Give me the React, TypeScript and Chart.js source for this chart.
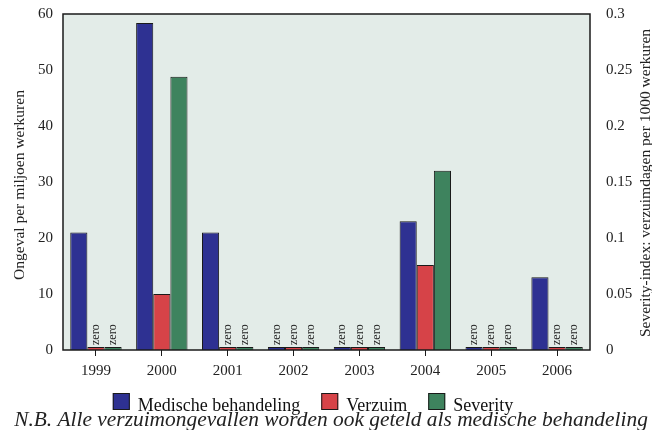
import React, { useEffect, useRef } from "react";
import { Chart, registerables } from "chart.js";

Chart.register(...registerables);

const years = ["1999", "2000", "2001", "2002", "2003", "2004", "2005", "2006"];
const medische = [21, 58.4, 21, 0, 0, 23, 0, 13];
const verzuim = [0, 10, 0, 0, 0, 15.2, 0, 0];
const severity = [0, 0.244, 0, 0, 0, 0.16, 0, 0];
const leftTicks = ["0", "10", "20", "30", "40", "50", "60"];
const rightTicks = ["0", "0.05", "0.1", "0.15", "0.2", "0.25", "0.3"];
const leftTitle = "Ongeval per miljoen werkuren";
const rightTitle = "Severity-index: verzuimdagen per 1000 werkuren";
const footnote = "N.B. Alle verzuimongevallen worden ook geteld als medische behandeling";

const SERIF = "'Liberation Serif', 'Times New Roman', serif";
const TEXT = "#222";

const bgPlugin = {
  id: "plotBg",
  beforeDraw(chart: any) {
    const { ctx, chartArea: a } = chart;
    ctx.save();
    ctx.fillStyle = "#E3ECE8";
    ctx.fillRect(a.left, a.top, a.right - a.left, a.bottom - a.top);
    ctx.restore();
  },
  afterDraw(chart: any) {
    const { ctx, chartArea: a } = chart;
    ctx.save();
    ctx.strokeStyle = "#1a1a1a";
    ctx.lineWidth = 1.5;
    ctx.strokeRect(a.left, a.top, a.right - a.left, a.bottom - a.top);

    // axis titles (both read bottom-to-top)
    const cy = (a.top + a.bottom) / 2;
    ctx.fillStyle = TEXT;
    ctx.font = `15.5px ${SERIF}`;
    ctx.textAlign = "center";
    ctx.textBaseline = "middle";
    ctx.save();
    ctx.translate(20, cy + 3);
    ctx.rotate(-Math.PI / 2);
    ctx.fillText(leftTitle, 0, 0);
    ctx.restore();
    ctx.save();
    ctx.translate(646, cy + 1);
    ctx.rotate(-Math.PI / 2);
    ctx.fillText(rightTitle, 0, 0);
    ctx.restore();

    // legend from datasets
    ctx.font = `18px ${SERIF}`;
    ctx.textAlign = "left";
    ctx.textBaseline = "alphabetic";
    const box = 17;
    const gapBoxText = 8;
    const gapItems = 21;
    const items = chart.data.datasets.map((d: any) => ({
      label: d.label,
      color: d.backgroundColor,
      w: ctx.measureText(d.label).width,
    }));
    const total =
      items.reduce((s: number, it: any) => s + box + gapBoxText + it.w, 0) +
      gapItems * (items.length - 1);
    let x = 313 - total / 2;
    const boxTop = 393;
    items.forEach((it: any) => {
      ctx.fillStyle = it.color;
      ctx.fillRect(x, boxTop, box, box);
      ctx.strokeStyle = "#1a1a1a";
      ctx.lineWidth = 1;
      ctx.strokeRect(x + 0.5, boxTop + 0.5, box - 1, box - 1);
      ctx.fillStyle = "#111";
      ctx.fillText(it.label, x + box + gapBoxText, 411);
      x += box + gapBoxText + it.w + gapItems;
    });

    // footnote
    ctx.font = `italic 21.4px ${SERIF}`;
    ctx.textAlign = "center";
    ctx.fillStyle = TEXT;
    ctx.fillText(footnote, 331, 426);
    ctx.restore();
  },
};

const zeroPlugin = {
  id: "zeroLabels",
  afterDatasetsDraw(chart: any) {
    const { ctx, chartArea: a } = chart;
    ctx.save();
    ctx.font = `12px ${SERIF}`;
    ctx.fillStyle = TEXT;
    ctx.textAlign = "left";
    ctx.textBaseline = "middle";
    chart.data.datasets.forEach((ds: any, di: number) => {
      const meta = chart.getDatasetMeta(di);
      ds.data.forEach((v: number, i: number) => {
        if (v === 0) {
          const el = meta.data[i];
          ctx.save();
          ctx.translate(el.x, a.bottom - 5);
          ctx.rotate(-Math.PI / 2);
          ctx.fillText("zero", 0, 0);
          ctx.restore();
        }
      });
    });
    ctx.restore();
  },
};

export default function App() {
  const ref = useRef<HTMLCanvasElement>(null);
  useEffect(() => {
    const chart = new Chart(ref.current!, {
      type: "bar",
      data: {
        labels: years,
        datasets: [
          {
            label: "Medische behandeling",
            data: medische,
            backgroundColor: "#2E3192",
            borderColor: "#1a1a1a",
            borderWidth: 1,
            yAxisID: "y",
            minBarLength: 3,
          },
          {
            label: "Verzuim",
            data: verzuim,
            backgroundColor: "#D64348",
            borderColor: "#1a1a1a",
            borderWidth: 1,
            yAxisID: "y",
            minBarLength: 3,
          },
          {
            label: "Severity",
            data: severity,
            backgroundColor: "#3E835E",
            borderColor: "#1a1a1a",
            borderWidth: 1,
            yAxisID: "y1",
            minBarLength: 3,
          },
        ],
      },
      options: {
        animation: false,
        responsive: true,
        maintainAspectRatio: false,
        layout: { padding: { left: 0, right: 0, top: 14, bottom: 50 } },
        datasets: { bar: { categoryPercentage: 0.78, barPercentage: 1 } },
        scales: {
          x: {
            afterFit: (s: any) => {
              s.height = 30;
              s.paddingLeft = 0;
              s.paddingRight = 0;
            },
            grid: {
              display: true,
              drawOnChartArea: false,
              offset: false,
              tickLength: 6,
              color: "#1a1a1a",
            },
            border: { display: false },
            ticks: { color: TEXT, font: { family: SERIF, size: 15 }, padding: 6 },
          },
          y: {
            position: "left",
            min: 0,
            max: 60,
            afterFit: (s: any) => {
              s.width = 63;
              s.paddingTop = 0;
              s.paddingBottom = 0;
            },
            grid: { display: false, drawTicks: false },
            border: { display: false },
            ticks: {
              stepSize: 10,
              color: TEXT,
              padding: 10,
              font: { family: SERIF, size: 15 },
              callback: (_v: any, i: number) => leftTicks[i],
            },
          },
          y1: {
            position: "right",
            min: 0,
            max: 0.3,
            afterFit: (s: any) => {
              s.width = 62;
              s.paddingTop = 0;
              s.paddingBottom = 0;
            },
            grid: { display: false, drawTicks: false },
            border: { display: false },
            ticks: {
              stepSize: 0.05,
              color: TEXT,
              padding: 16,
              font: { family: SERIF, size: 15 },
              callback: (_v: any, i: number) => rightTicks[i],
            },
          },
        },
        plugins: {
          legend: { display: false },
          title: { display: false },
          tooltip: { enabled: false },
        },
      },
      plugins: [bgPlugin, zeroPlugin],
    } as any);
    return () => chart.destroy();
  }, []);
  return (
    <div style={{ position: "fixed", left: 0, top: 0, width: 652, height: 430, background: "#fff" }}>
      <canvas ref={ref} />
    </div>
  );
}
